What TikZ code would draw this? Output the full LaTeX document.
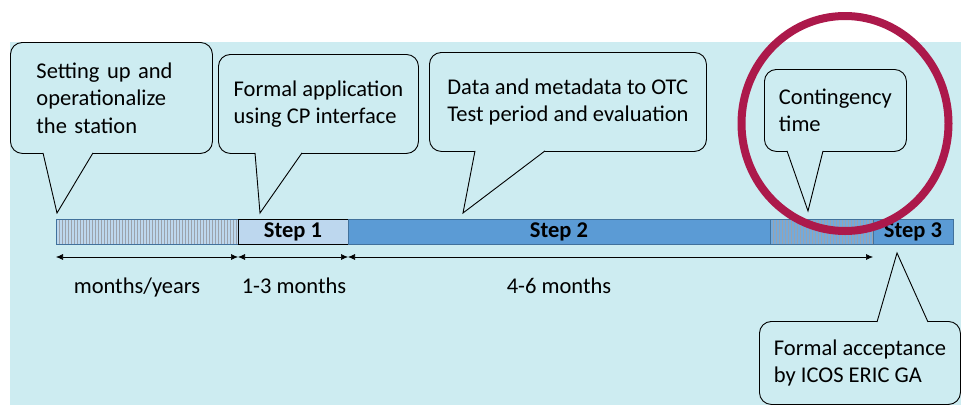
\documentclass[tikz,border=0pt]{standalone}
\usepackage{fontspec}
\setmainfont{Carlito}
\usepackage{tikz}
\usetikzlibrary{arrows.meta,positioning}

\definecolor{panel}{RGB}{205,236,241}
\definecolor{paleblue}{RGB}{189,215,238}
\definecolor{midblue}{RGB}{91,155,213}
\definecolor{edgeblue}{RGB}{65,113,156}
\definecolor{stripe}{RGB}{155,162,172}
\definecolor{ring}{RGB}{172,25,75}

\begin{document}
\begin{tikzpicture}[
    x=1pt, y=-1pt,
    node distance=0pt,
    txt/.style={font=\fontsize{22.5}{27.5}\selectfont},
    bubble/.style={txt, rectangle, rounded corners=12pt, draw=black, fill=panel, line width=0.9pt, align=left, anchor=north west, inner xsep=11pt, inner ysep=0pt},
    tail/.style={fill=panel, draw=black, line width=0.9pt, line join=miter},
    seg/.style={rectangle, draw=edgeblue, line width=0.8pt, minimum height=25pt, inner sep=0pt, outer sep=0pt, font=\fontsize{22.5}{27}\selectfont\bfseries},
    hatched/.style={seg, path picture={
        \foreach \i in {0,3,...,420}
            \draw[stripe, line width=0.7pt] ([xshift=\i pt]path picture bounding box.south west) -- ([xshift=\i pt]path picture bounding box.north west);
    }},
    span/.style={{Latex[length=7pt,width=6pt]}-{Latex[length=7pt,width=6pt]}, line width=0.6pt},
    dur/.style={txt, anchor=base}
]

    \useasboundingbox (0,0) rectangle (961,405);
    \fill[panel] (10,42) rectangle (961,405);

    % Time bar
    \node[hatched, fill=paleblue, minimum width=182pt] (setup) at (147,231.5) {};
    \node[seg, fill=paleblue, draw=black, minimum width=110pt, right=of setup] (step1) {Step 1};
    \node[seg, fill=midblue, minimum width=422pt, right=of step1] (step2) {Step 2};
    \node[hatched, fill=midblue!85!white, minimum width=103pt, right=of step2] (spare) {};
    \node[seg, fill=midblue, minimum width=80pt, right=of spare] (step3) {Step 3};

    % Durations
    \draw[span] ([yshift=-13pt]setup.south west) -- ([yshift=-13pt]setup.south east);
    \draw[span] ([yshift=-13pt]step1.south west) -- ([yshift=-13pt]step1.south east);
    \draw[span] ([yshift=-13pt]step2.south west) -- ([yshift=-13pt]spare.south east);
    \node[dur] (d0) at (137,293) {months/years};
    \node[dur] (d1) at (294,293) {1-3 months};
    \node[dur] (d2) at (559,293) {4-6 months};

    % Callouts
    \node[bubble, inner xsep=26pt, text width=150pt, minimum width=202pt, minimum height=111pt] (b0) at (10,42)
        {Setting up and\\operationalize\\the station};
    \node[bubble, minimum width=200pt, minimum height=99pt] (b1) at (218,54)
        {Formal application\\using CP interface};
    \node[bubble, minimum width=277pt, minimum height=99pt] (b2) at (429,52)
        {Data and metadata to OTC\\Test period and evaluation};
    \node[bubble, minimum width=142pt, minimum height=82pt] (b3) at (764,69)
        {Contingency\\time};
    \node[bubble, minimum width=201pt, minimum height=83pt] (b4) at (759,321)
        {Formal acceptance\\by ICOS ERIC GA};

    \coordinate (p0) at (57,213);
    \coordinate (p1) at (260,213);
    \coordinate (p2) at (463,213);
    \coordinate (p3) at (808,211);
    \coordinate (p4) at (897,253);

    \filldraw[tail] ([xshift=33pt,yshift=1pt]b0.south west) -- (p0) -- ([xshift=83pt,yshift=1pt]b0.south west);
    \filldraw[tail] ([xshift=37pt,yshift=1pt]b1.south west) -- (p1) -- ([xshift=84pt,yshift=1pt]b1.south west);
    \filldraw[tail] ([xshift=46pt,yshift=1pt]b2.south west) -- (p2) -- ([xshift=116pt,yshift=1pt]b2.south west);
    \filldraw[tail] ([xshift=23pt,yshift=1pt]b3.south west) -- (p3) -- ([xshift=59pt,yshift=1pt]b3.south west);
    \filldraw[tail] ([xshift=118pt,yshift=-1pt]b4.north west) -- (p4) -- ([xshift=169pt,yshift=-1pt]b4.north west);

    % Highlight ring
    \draw[ring, line width=8pt] (845,123.5) ellipse (103.5 and 107.5);

\end{tikzpicture}
\end{document}
